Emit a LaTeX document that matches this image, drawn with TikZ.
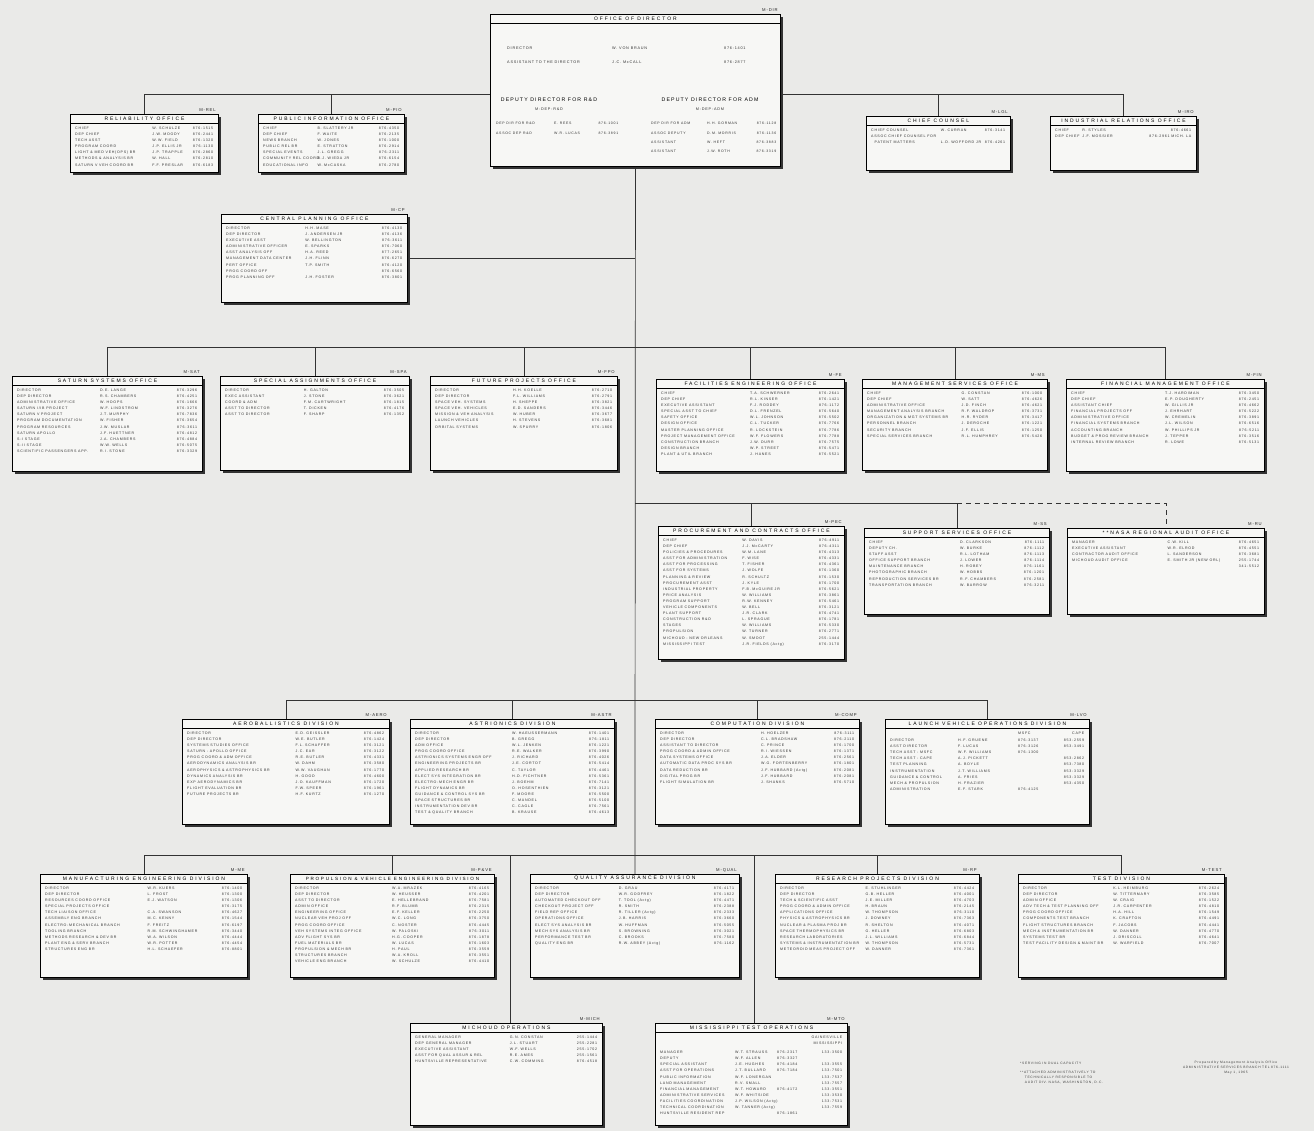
\documentclass[tikz,border=0pt]{standalone}
\usepackage{fontspec}
\usepackage{array}
\usetikzlibrary{shadows,calc}
\newfontfamily\rowfont[LetterSpace=20]{Liberation Sans}
\newfontfamily\ttlfont[LetterSpace=38]{Liberation Sans}
\newfontfamily\depfont[LetterSpace=22]{Liberation Sans}
\definecolor{paper}{RGB}{234,234,232}
\definecolor{boxfill}{RGB}{247,247,245}
\newcolumntype{L}[1]{>{\hbox to #1\bgroup}l<{\hss\egroup}}
\newcolumntype{R}[1]{>{\hbox to #1\bgroup\hss}l<{\egroup}}
\tikzset{
 orgbox/.style={draw=black, line width=0.9pt, fill=boxfill, anchor=north west, inner sep=0pt,
   drop shadow={shadow xshift=2.8pt, shadow yshift=-2.8pt, fill=black!80, opacity=1}},
 ttl/.style={font=\ttlfont\fontsize{5}{6}\selectfont, text=black, inner sep=0pt},
 codelbl/.style={font=\rowfont\fontsize{4.2}{5}\selectfont, text=black!85, inner sep=0pt, anchor=south east},
 rowtext/.style={font=\rowfont\fontsize{3.6}{6.1}\selectfont, text=black!80, inner sep=0pt, anchor=north west},
 dirtext/.style={font=\rowfont\fontsize{3.8}{6}\selectfont, text=black!80, inner sep=0pt},
 notetext/.style={font=\rowfont\fontsize{3.3}{5}\selectfont, text=black!75, inner sep=0pt},
 link/.style={draw=black!80, line width=0.7pt},
}
\newcommand\OrgFrame[7]{%
 \node[orgbox, minimum width=#4pt, minimum height=#5pt] (#1) at (#2,#3) {};
 \draw[line width=0.6pt] ([yshift=-9pt]#1.north west) -- ([yshift=-9pt]#1.north east);
 \node[ttl] at ([yshift=-4.7pt]#1.north) {#6};
 \node[codelbl] at ([xshift=-3pt,yshift=2pt]#1.north east) {#7};
}
\newcommand\OrgRows[5]{%
 \node[rowtext] at ([xshift=5pt,yshift=-11pt]#1.north west) {\begin{tabular}{@{}L{\dimexpr(#2pt-10pt)*#3/100\relax}@{}L{\dimexpr(#2pt-10pt)*#4/100\relax}@{}R{\dimexpr(#2pt-10pt)*(100-#3-#4)/100\relax}@{}}#5\end{tabular}};
}
\begin{document}
\begin{tikzpicture}[x=1pt,y=-1pt]
\fill[paper] (0,0) rectangle (1314,1131);
\useasboundingbox (0,0) rectangle (1314,1131);

% ---------- Director ----------
\OrgFrame{dir}{490}{14}{290}{152}{OFFICE OF DIRECTOR}{M-DIR}
\node[dirtext, anchor=west] (d1a) at (507,48) {DIRECTOR};
\node[dirtext, anchor=west] (d1b) at (612,48) {W. VON BRAUN};
\node[dirtext, anchor=west] (d1c) at (724,48) {876-1401};
\node[dirtext, anchor=west] (d2a) at (507,62) {ASSISTANT TO THE DIRECTOR};
\node[dirtext, anchor=west] (d2b) at (612,62) {J.C. McCALL};
\node[dirtext, anchor=west] (d2c) at (724,62) {876-2877};
\node[ttl, font=\depfont\fontsize{5.2}{6}\selectfont] (dep1) at (549,100) {DEPUTY DIRECTOR FOR R\&D};
\node[ttl, font=\depfont\fontsize{5.2}{6}\selectfont] (dep2) at (710,100) {DEPUTY DIRECTOR FOR ADM};
\node[dirtext] (dep1c) at (549,109) {M-DEP-R\&D};
\node[dirtext] (dep2c) at (710,109) {M-DEP-ADM};
\node[dirtext, anchor=north west, font=\rowfont\fontsize{3.5}{9.3}\selectfont] (depl) at (496,118) {\begin{tabular}{@{}L{58pt}@{}L{42pt}@{}R{22pt}@{}}DEP DIR FOR R\&D & E. REES & 876-1001\\ ASSOC DEP R\&D & W.R. LUCAS & 876-3891\end{tabular}};
\node[dirtext, anchor=north west, font=\rowfont\fontsize{3.5}{9.3}\selectfont] (depr) at (651,118) {\begin{tabular}{@{}L{56pt}@{}L{44pt}@{}R{25pt}@{}}DEP DIR FOR ADM & H.H. GORMAN & 876-1128\\ ASSOC DEPUTY & D.M. MORRIS & 876-1136\\ ASSISTANT & W. HEFT & 876-3883\\ ASSISTANT & J.W. ROTH & 876-3319\end{tabular}};

% ---------- Staff offices ----------
\OrgFrame{rel}{70}{114}{148}{58}{RELIABILITY OFFICE}{M-REL}
\OrgRows{rel}{148}{56}{29}{CHIEF & W. SCHULZE & 876-1515\\ DEP CHIEF & J.W. MOODY & 876-2441\\ TECH ASST & W.W. FIELD & 876-1320\\ PROGRAM COORD & J.P. ELLIS JR & 876-1130\\ LIGHT \& MED VEH(OPS) BR & J.P. TRAPPLE & 876-2860\\ METHODS \& ANALYSIS BR & W. HALL & 876-2810\\ SATURN V VEH COORD BR & F.F. PRESLAR & 876-6183}

\OrgFrame{pio}{258}{114}{146}{58}{PUBLIC INFORMATION OFFICE}{M-PIO}
\OrgRows{pio}{146}{40}{44}{CHIEF & B. SLATTERY JR & 876-4350\\ DEP CHIEF & F. WAITE & 876-2135\\ NEWS BRANCH & W. JONES & 876-1000\\ PUBLIC REL BR & E. STRATTON & 876-2914\\ SPECIAL EVENTS & J.L. GREGG & 876-2311\\ COMMUNITY REL COORD & B.J. WIEDA JR & 876-6154\\ EDUCATIONAL INFO & W. McCASKA & 876-2780}

\OrgFrame{lgl}{866}{116}{144}{54}{CHIEF COUNSEL}{M-LGL}
\OrgRows{lgl}{144}{52}{33}{CHIEF COUNSEL & W. CURRAN & 876-3141\\ ASSOC CHIEF COUNSEL FOR & & \\ \ \ PATENT MATTERS & L.D. WOFFORD JR & 876-4261}

\OrgFrame{iro}{1050}{116}{146}{54}{INDUSTRIAL RELATIONS OFFICE}{M-IRO}
\OrgRows{iro}{146}{20}{50}{CHIEF & R. STYLES & 876-4661\\ DEP CHIEF & J.F. MOSSIER & 876-2961 MICH. LA}

\OrgFrame{cp}{221}{214}{186}{88}{CENTRAL PLANNING OFFICE}{M-CP}
\OrgRows{cp}{186}{45}{43}{DIRECTOR & H.H. MASE & 876-4130\\ DEP DIRECTOR & J. ANDERSEN JR & 876-4136\\ EXECUTIVE ASST & W. BELLINGTON & 876-3611\\ ADMINISTRATIVE OFFICER & E. SPARKS & 876-7060\\ ASST ANALYSIS OFF & H.A. REED & 877-2651\\ MANAGEMENT DATA CENTER & J.H. FLINN & 876-6270\\ PERT OFFICE & T.P. SMITH & 876-4120\\ PROG COORD OFF & & 876-6560\\ PROG PLANNING OFF & J.H. FOSTER & 876-3801}

% ---------- Row 3 ----------
\OrgFrame{sat}{12}{376}{190}{95}{SATURN SYSTEMS OFFICE}{M-SAT}
\OrgRows{sat}{190}{46}{40}{DIRECTOR & D.E. LANGE & 876-3296\\ DEP DIRECTOR & R.S. CHAMBERS & 876-4251\\ ADMINISTRATIVE OFFICE & W. HOOPS & 876-1666\\ SATURN I/IB PROJECT & W.F. LINDSTROM & 876-3276\\ SATURN V PROJECT & J.T. MURPHY & 876-7836\\ PROGRAM DOCUMENTATION & W. FISHER & 876-3654\\ PROGRAM RESOURCES & J.W. MUSLAR & 876-3611\\ SATURN APOLLO & J.F. HUETTNER & 876-4812\\ S-I STAGE & J.A. CHAMBERS & 876-4884\\ S-II STAGE & W.W. WELLS & 876-5075\\ SCIENTIFIC PASSENGERS APP. & R.I. STONE & 876-3329}

\OrgFrame{spa}{220}{376}{189}{94}{SPECIAL ASSIGNMENTS OFFICE}{M-SPA}
\OrgRows{spa}{189}{44}{42}{DIRECTOR & H. GALTON & 876-3505\\ EXEC ASSISTANT & J. STONE & 876-3621\\ COORD \& ADM & F.M. CARTWRIGHT & 876-1815\\ ASST TO DIRECTOR & T. DICKEN & 876-4176\\ ASST TO DIRECTOR & F. SHARP & 876-1352}

\OrgFrame{fpo}{430}{376}{187}{94}{FUTURE PROJECTS OFFICE}{M-FPO}
\OrgRows{fpo}{187}{44}{40}{DIRECTOR & H.H. KOELLE & 876-2710\\ DEP DIRECTOR & F.L. WILLIAMS & 876-2791\\ SPACE VEH. SYSTEMS & H. SHEPPE & 876-3821\\ SPACE VEH. VEHICLES & E.D. SANDERS & 876-3446\\ MISSION \& VEH ANALYSIS & W. HUBER & 876-3677\\ LAUNCH VEHICLES & H. STEVENS & 876-3681\\ ORBITAL SYSTEMS & W. SPURRY & 876-1806}

\OrgFrame{fe}{656}{379}{188}{92}{FACILITIES ENGINEERING OFFICE}{M-FE}
\OrgRows{fe}{188}{50}{35}{CHIEF & T.A. SCHWERNER & 876-2641\\ DEP CHIEF & R.L. KINSER & 876-1421\\ EXECUTIVE ASSISTANT & F.J. RODDEY & 876-1172\\ SPECIAL ASST TO CHIEF & D.L. FRENZEL & 876-5640\\ SAFETY OFFICE & W.L. JOHNSON & 876-5502\\ DESIGN OFFICE & C.L. TUCKER & 876-7766\\ MASTER PLANNING OFFICE & R. LOCKSTEIN & 876-7786\\ PROJECT MANAGEMENT OFFICE & W.F. FLOWERS & 876-7788\\ CONSTRUCTION BRANCH & J.W. DURR & 876-7575\\ DESIGN BRANCH & W.P. STREET & 876-5471\\ PLANT \& UTIL BRANCH & J. HANES & 876-5521}

\OrgFrame{ms}{862}{379}{185}{91}{MANAGEMENT SERVICES OFFICE}{M-MS}
\OrgRows{ms}{185}{54}{32}{CHIEF & G. CONSTAN & 876-1000\\ DEP CHIEF & W. SATT & 876-4626\\ ADMINISTRATIVE OFFICE & J.D. FINCH & 876-4621\\ MANAGEMENT ANALYSIS BRANCH & R.F. WALDROP & 876-3731\\ ORGANIZATION \& MGT SYSTEMS BR & H.R. RYDER & 876-3417\\ PERSONNEL BRANCH & J. DEROCHE & 876-1221\\ SECURITY BRANCH & J.F. ELLIS & 876-1250\\ SPECIAL SERVICES BRANCH & R.L. HUMPHREY & 876-5426}

\OrgFrame{fin}{1066}{379}{198}{92}{FINANCIAL MANAGEMENT OFFICE}{M-FIN}
\OrgRows{fin}{198}{50}{36}{CHIEF & T.J. HARDIMAN & 876-3450\\ DEP CHIEF & E.P. DOUGHERTY & 876-2451\\ ASSISTANT CHIEF & W. GILLIS JR & 876-4662\\ FINANCIAL PROJECTS OFF & J. EHRHART & 876-5222\\ ADMINISTRATIVE OFFICE & W. CREMELIN & 876-3891\\ FINANCIAL SYSTEMS BRANCH & J.L. WILSON & 876-6516\\ ACCOUNTING BRANCH & W. PHILLIPS JR & 876-5211\\ BUDGET \& PROG REVIEW BRANCH & J. TEPPER & 876-3516\\ INTERNAL REVIEW BRANCH & R. LOWE & 876-5131}

% ---------- Row 4 ----------
\OrgFrame{pec}{658}{526}{186}{133}{PROCUREMENT AND CONTRACTS OFFICE}{M-PEC}
\OrgRows{pec}{186}{45}{40}{CHIEF & W. DAVIS & 876-4911\\ DEP CHIEF & J.J. McCARTY & 876-4311\\ POLICIES \& PROCEDURES & W.M. LANE & 876-4313\\ ASST FOR ADMINISTRATION & F. WISE & 876-4331\\ ASST FOR PROCESSING & T. FISHER & 876-4361\\ ASST FOR SYSTEMS & J. WOLFE & 876-1360\\ PLANNING \& REVIEW & R. SCHULTZ & 876-1530\\ PROCUREMENT ASST & J. KYLE & 876-1700\\ INDUSTRIAL PROPERTY & F.B. McGUIRE JR & 876-5621\\ PRICE ANALYSIS & W. WILLIAMS & 876-3861\\ PROGRAM SUPPORT & R.W. KENNEY & 876-5461\\ VEHICLE COMPONENTS & W. BELL & 876-3121\\ PLANT SUPPORT & J.R. CLARK & 876-4741\\ CONSTRUCTION R\&D & L. SPRAGUE & 876-1781\\ STAGES & W. WILLIAMS & 876-5330\\ PROPULSION & W. TURNER & 876-2771\\ MICHOUD - NEW ORLEANS & W. SMOOT & 255-1444\\ MISSISSIPPI TEST & J.R. FIELDS (Actg) & 876-3170}

\OrgFrame{ss}{864}{528}{185}{86}{SUPPORT SERVICES OFFICE}{M-SS}
\OrgRows{ss}{185}{52}{33}{CHIEF & D. CLARKSON & 876-1111\\ DEPUTY CH. & W. BURKE & 876-1112\\ STAFF ASST & R.L. LOTHAM & 876-1113\\ OFFICE SUPPORT BRANCH & J. LOWER & 876-1114\\ MAINTENANCE BRANCH & H. ROBEY & 876-1161\\ PHOTOGRAPHIC BRANCH & W. HOBBS & 876-1201\\ REPRODUCTION SERVICES BR & R.F. CHAMBERS & 876-2581\\ TRANSPORTATION BRANCH & W. BARROW & 876-3211}

\OrgFrame{rau}{1067}{528}{197}{86}{**NASA REGIONAL AUDIT OFFICE}{M-RU}
\OrgRows{rau}{197}{51}{34}{MANAGER & C.W. KILL & 876-4651\\ EXECUTIVE ASSISTANT & W.R. ELROD & 876-4551\\ CONTRACTOR AUDIT OFFICE & L. SANDERSON & 876-3681\\ MICHOUD AUDIT OFFICE & E. SMITH JR (NEW ORL) & 255-1744\\ & & 341-5512}

% ---------- Row 5 ----------
\OrgFrame{aero}{182}{719}{207}{105}{AEROBALLISTICS DIVISION}{M-AERO}
\OrgRows{aero}{207}{55}{32}{DIRECTOR & E.D. GEISSLER & 876-4862\\ DEP DIRECTOR & W.E. BUTLER & 876-1424\\ SYSTEMS STUDIES OFFICE & F.L. SCHAFFER & 876-3121\\ SATURN - APOLLO OFFICE & J.C. EAR & 876-3122\\ PROG COORD \& ADM OFFICE & R.E. BUTLER & 876-4331\\ AERODYNAMICS ANALYSIS BR & W. DAHM & 876-3580\\ AEROPHYSICS \& ASTROPHYSICS BR & W.W. VAUGHAN & 876-1770\\ DYNAMICS ANALYSIS BR & H. GOOD & 876-4600\\ EXP AERODYNAMICS BR & J.O. KAUFFMAN & 876-1720\\ FLIGHT EVALUATION BR & F.W. SPEER & 876-1961\\ FUTURE PROJECTS BR & H.F. KURTZ & 876-1270}

\OrgFrame{astr}{410}{719}{204}{105}{ASTRIONICS DIVISION}{M-ASTR}
\OrgRows{astr}{204}{50}{36}{DIRECTOR & W. HAEUSSERMANN & 876-1401\\ DEP DIRECTOR & B. GREGG & 876-1811\\ ADM OFFICE & W.L. JENKEN & 876-1221\\ PROG COORD OFFICE & R.E. WALKER & 876-3990\\ ASTRIONICS SYSTEMS ENGR OFF & J. RICHARD & 876-4026\\ ENGINEERING PROJECTS BR & J.E. CORTOT & 876-5414\\ APPLIED RESEARCH BR & C. TAYLOR & 876-4461\\ ELECT SYS INTEGRATION BR & H.D. FICHTNER & 876-5361\\ ELECTRO-MECH ENGR BR & J. BOEHM & 876-7141\\ FLIGHT DYNAMICS BR & O. HOSENTHIEN & 876-3121\\ GUIDANCE \& CONTROL SYS BR & F. MOORE & 876-5500\\ SPACE STRUCTURES BR & C. MANDEL & 876-5100\\ INSTRUMENTATION DEV BR & C. CAGLE & 876-7561\\ TEST \& QUALITY BRANCH & B. KRAUSE & 876-4613}

\OrgFrame{comp}{655}{719}{204}{105}{COMPUTATION DIVISION}{M-COMP}
\OrgRows{comp}{204}{52}{34}{DIRECTOR & H. HOELZER & 876-3111\\ DEP DIRECTOR & C.L. BRADSHAW & 876-2110\\ ASSISTANT TO DIRECTOR & C. PRINCE & 876-1700\\ PROG COORD \& ADMIN OFFICE & R.I. WIESSEN & 876-1371\\ DATA SYSTEMS OFFICE & J.A. ELDER & 876-2561\\ AUTOMATIC DATA PROC SYS BR & W.G. FORTENBERRY & 876-1801\\ DATA REDUCTION BR & J.F. HUBBARD (Actg) & 876-2081\\ DIGITAL PROG BR & J.F. HUBBARD & 876-2081\\ FLIGHT SIMULATION BR & J. SHANKS & 876-5710}

\OrgFrame{lvo}{885}{719}{204}{105}{LAUNCH VEHICLE OPERATIONS DIVISION}{M-LVO}
\node[rowtext] (lvot) at ([xshift=5pt,yshift=-11pt]lvo.north west) {\begin{tabular}{@{}L{68pt}@{}L{60pt}@{}L{42pt}@{}R{24pt}@{}} & & MSFC & CAPE\\[1pt] DIRECTOR & H.F. GRUENE & 876-3137 & 853-2559\\ ASST DIRECTOR & F. LUCAS & 876-3126 & 853-3491\\ TECH ASST - MSFC & W.F. WILLIAMS & 876-1300 & \\ TECH ASST - CAPE & A.J. PICKETT & & 853-2862\\ TEST PLANNING & A. BOYLE & & 853-7380\\ INSTRUMENTATION & J.T. WILLIAMS & & 853-3329\\ GUIDANCE \& CONTROL & A. FRIES & & 853-3329\\ MECH \& PROPULSION & H. FRAZIER & & 853-4350\\ ADMINISTRATION & E.F. STARK & 876-4125 & \end{tabular}};

% ---------- Row 6 ----------
\OrgFrame{me}{40}{874}{207}{103}{MANUFACTURING ENGINEERING DIVISION}{M-ME}
\OrgRows{me}{207}{52}{34}{DIRECTOR & W.R. KUERS & 876-1400\\ DEP DIRECTOR & L. FROST & 876-1300\\ RESOURCES COORD OFFICE & E.J. WATSON & 876-1306\\ SPECIAL PROJECTS OFFICE & & 876-3175\\ TECH LIAISON OFFICE & C.A. SWANSON & 876-4627\\ ASSEMBLY ENG BRANCH & M.C. KENNY & 876-1544\\ ELECTRO-MECHANICAL BRANCH & F. FREITZ & 876-6197\\ TOOLING BRANCH & R.M. SCHWINGHAMER & 876-3440\\ METHODS RESEARCH \& DEV BR & W.A. WILSON & 876-4444\\ PLANT ENG \& SERV BRANCH & W.R. POTTER & 876-4454\\ STRUCTURES ENG BR & H.L. SCHAEFER & 876-8801}

\OrgFrame{pve}{290}{874}{204}{103}{\fontsize{4.6}{6}\selectfont PROPULSION \& VEHICLE ENGINEERING DIVISION}{M-P\&VE}
\OrgRows{pve}{204}{50}{36}{DIRECTOR & W.A. MRAZEK & 876-4165\\ DEP DIRECTOR & W. HEUSSER & 876-4201\\ ASST TO DIRECTOR & E. HELLEBRAND & 876-7581\\ ADMIN OFFICE & R.F. BLUMB & 876-2315\\ ENGINEERING OFFICE & E.F. KELLER & 876-2250\\ NUCLEAR VEH PROJ OFF & W.C. LONG & 876-3750\\ PROG COORD OFFICE & C. NOSTER & 876-4445\\ VEH SYSTEMS INTEG OFFICE & W. PALOSKI & 876-3011\\ ADV FLIGHT SYS BR & H.G. COOPER & 876-1878\\ FUEL MATERIALS BR & W. LUCAS & 876-1603\\ PROPULSION \& MECH BR & H. PAUL & 876-3559\\ STRUCTURES BRANCH & W.A. KROLL & 876-3551\\ VEHICLE ENG BRANCH & W. SCHULZE & 876-4410}

\OrgFrame{qual}{530}{874}{209}{103}{QUALITY ASSURANCE DIVISION}{M-QUAL}
\OrgRows{qual}{209}{42}{42}{DIRECTOR & D. GRAU & 876-4171\\ DEP DIRECTOR & W.R. GODFREY & 876-1822\\ AUTOMATED CHECKOUT OFF & T. TOOL (Actg) & 876-4471\\ CHECKOUT PROJECT OFF & R. SMITH & 876-2388\\ FIELD REP OFFICE & R. TILLER (Actg) & 876-2333\\ OPERATIONS OFFICE & J.B. HARRIS & 876-3660\\ ELECT SYS ANALYSIS BR & W. HUFFMAN & 876-5055\\ MECH SYS ANALYSIS BR & S. BROWNING & 876-3021\\ PERFORMANCE TEST BR & C. BROOKS & 876-7580\\ QUALITY ENG BR & R.W. ABBEY (Actg) & 876-1162}

\OrgFrame{rp}{775}{874}{204}{103}{RESEARCH PROJECTS DIVISION}{M-RP}
\OrgRows{rp}{204}{44}{40}{DIRECTOR & E. STUHLINGER & 876-4424\\ DEP DIRECTOR & G.B. HELLER & 876-4001\\ TECH \& SCIENTIFIC ASST & J.E. MILLER & 876-4703\\ PROG COORD \& ADMIN OFFICE & H. BRAUN & 876-2145\\ APPLICATIONS OFFICE & W. THOMPSON & 876-3110\\ PHYSICS \& ASTROPHYSICS BR & J. DOWNEY & 876-7363\\ NUCLEAR \& PLASMA PROJ BR & R. SHELTON & 876-4071\\ SPACE THERMOPHYSICS BR & G. HELLER & 876-6803\\ RESEARCH LABORATORIES & J.L. WILLIAMS & 876-6844\\ SYSTEMS \& INSTRUMENTATION BR & W. THOMPSON & 876-5731\\ METEOROID MEAS PROJECT OFF & W. DANNER & 876-7361}

\OrgFrame{test}{1018}{874}{206}{103}{TEST DIVISION}{M-TEST}
\OrgRows{test}{206}{46}{38}{DIRECTOR & K.L. HEIMBURG & 876-2624\\ DEP DIRECTOR & W. TITTERMARY & 876-3585\\ ADMIN OFFICE & W. CRAIG & 876-1522\\ ADV TECH \& TEST PLANNING OFF & J.R. CARPENTER & 876-4810\\ PROG COORD OFFICE & H.A. HILL & 876-1549\\ COMPONENTS TEST BRANCH & K. CRAFTON & 876-4491\\ FLIGHT STRUCTURES BRANCH & F. JACOBS & 876-4441\\ MECH \& INSTRUMENTATION BR & W. DANNER & 876-4770\\ SYSTEMS TEST BR & J. DRISCOLL & 876-4641\\ TEST FACILITY DESIGN \& MAINT BR & W. WARFIELD & 876-7007}

% ---------- Bottom ----------
\OrgFrame{mich}{410}{1023}{192}{102}{MICHOUD OPERATIONS}{M-MICH}
\OrgRows{mich}{192}{52}{34}{GENERAL MANAGER & G.N. CONSTAN & 255-1444\\ DEP GENERAL MANAGER & J.L. STUART & 255-2281\\ EXECUTIVE ASSISTANT & W.F. WELLS & 255-1702\\ ASST FOR QUAL ASSUR \& REL & R.E. AMES & 255-1561\\ HUNTSVILLE REPRESENTATIVE & C.W. COMMING & 876-4518}

\OrgFrame{mto}{655}{1023}{192}{102}{MISSISSIPPI TEST OPERATIONS}{M-MTO}
\node[rowtext] (mtot) at ([xshift=5pt,yshift=-11pt]mto.north west) {\begin{tabular}{@{}L{75pt}@{}L{42pt}@{}L{33pt}@{}R{32pt}@{}} & & & GAINESVILLE\\ & & & MISSISSIPPI\\[3pt] MANAGER & W.T. STRAUSS & 876-2317 & 133-3500\\ DEPUTY & W.F. ALLEN & 876-3327 & \\ SPECIAL ASSISTANT & J.E. HUGHES & 876-4184 & 133-3555\\ ASST FOR OPERATIONS & J.T. BULLARD & 876-7184 & 133-7501\\ PUBLIC INFORMATION & W.F. LONERGAN & & 133-7537\\ LAND MANAGEMENT & R.V. SMALL & & 133-7557\\ FINANCIAL MANAGEMENT & W.T. HOWARD & 876-4172 & 133-3551\\ ADMINISTRATIVE SERVICES & W.F. WHITSIDE & & 133-3530\\ FACILITIES COORDINATION & J.P. WILSON (Actg) & & 133-7531\\ TECHNICAL COORDINATION & W. TANNER (Actg) & & 133-7559\\ HUNTSVILLE RESIDENT REP & & 876-1861 & \end{tabular}};

% ---------- Notes ----------
\node[notetext, anchor=north west] (note1) at (1020,1061) {\begin{tabular}{@{}l@{}}*SERVING IN DUAL CAPACITY\\[4pt] **ATTACHED ADMINISTRATIVELY TO\\ \ \ \ TECHNICALLY RESPONSIBLE TO\\ \ \ \ AUDIT DIV. NASA, WASHINGTON, D.C.\end{tabular}};
\node[notetext, anchor=north] (note2) at (1236,1060) {\begin{tabular}{@{}c@{}}Prepared by Management Analysis Office\\ ADMINISTRATIVE SERVICES BRANCH TEL 876-1111\\ May 1, 1965\end{tabular}};

% ---------- Connectors ----------
\draw[link] (dir.south) -- (qual.north);
\draw[link] (rel.north) |- ([yshift=-4pt]dir.west);
\draw[link] (pio.north) |- ([yshift=-4pt]dir.west);
\draw[link] (lgl.north) |- ([yshift=-4pt]dir.east);
\draw[link] (iro.north) |- ([yshift=-4pt]dir.east);
\draw[link] (cp.east) -- (cp.east -| dir.south);
\coordinate (r3) at (635,347);
\foreach \b in {sat,spa,fpo,fe,ms,fin} {\draw[link] (\b.north) |- (r3);}
\coordinate (r4) at (635,503);
\draw[link] (r4) -| (pec.north);
\draw[link] (r4) -| (ss.north);
\draw[link, dashed, dash pattern=on 5pt off 4pt] (ss.north |- r4) -| (rau.north);
\coordinate (r5) at (635,700);
\foreach \b in {aero,astr,comp,lvo} {\draw[link] (\b.north) |- (r5);}
\coordinate (r6) at (635,855);
\foreach \b in {me,pve,rp,test} {\draw[link] (\b.north) |- (r6);}
\draw[link] ([xshift=4pt]mich.north) |- (r6);
\draw[link] ([xshift=3pt]mto.north) |- (r6);
\end{tikzpicture}
\end{document}
